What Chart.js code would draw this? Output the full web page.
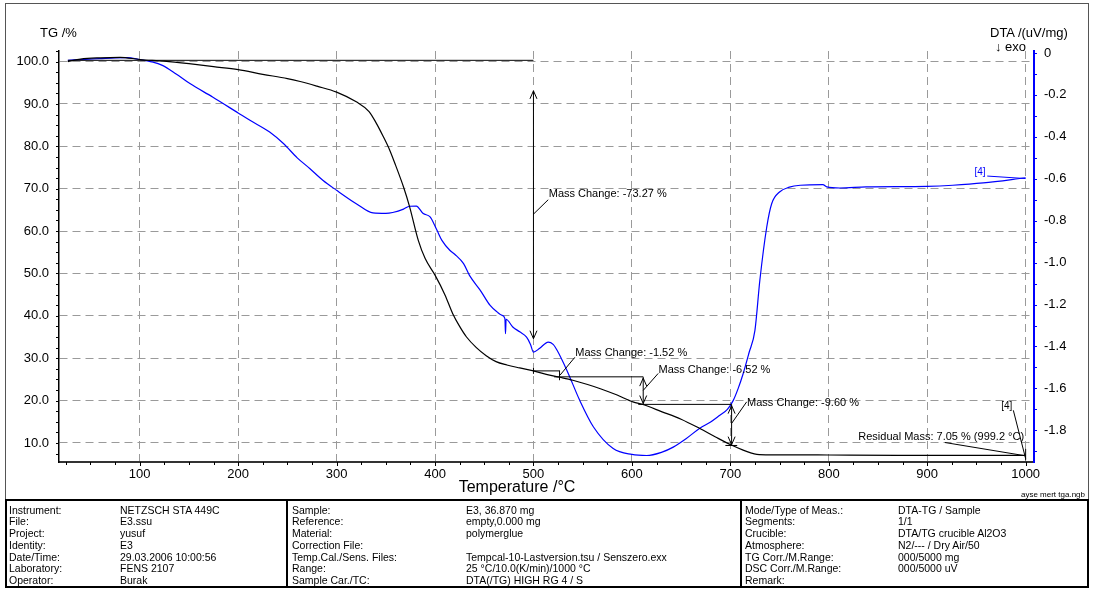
<!DOCTYPE html>
<html><head><meta charset="utf-8">
<script src="https://cdn.jsdelivr.net/npm/chart.js@4.4.0/dist/chart.umd.min.js"></script>
<style>
html,body{margin:0;padding:0;background:#fff;width:1094px;height:589px;overflow:hidden;font-family:"Liberation Sans",Arial,sans-serif;}
#c{position:absolute;left:0;top:0;}
.t{position:absolute;white-space:nowrap;color:#000;line-height:1;transform:translateY(-50%);}
#frame{position:absolute;left:5px;top:3px;width:1084px;height:497px;border:1px solid #555;border-bottom:none;box-sizing:border-box;}
#tbl{position:absolute;left:5px;top:499px;width:1084px;height:89px;border:2px solid #000;box-sizing:border-box;}
.dv{position:absolute;top:499px;height:89px;width:2px;background:#000;}
.cell{position:absolute;white-space:nowrap;font-size:10.5px;line-height:1;transform:translateY(-50%);color:#000;}
</style></head>
<body>
<div id="frame"></div>
<canvas id="c" width="1094" height="589"></canvas>
<div class="t" style="left:40px;top:32px;font-size:13px;">TG /%</div>
<div class="t" style="left:990px;top:32px;font-size:13px;">DTA /(uV/mg)</div>
<div class="t" style="left:995px;top:46px;font-size:13px;">&#8595; exo</div>
<div class="t" style="left:517px;top:487px;font-size:16px;transform:translate(-50%,-50%);">Temperature /°C</div>
<div class="t" style="right:9px;top:495px;font-size:8px;">ayse mert tga.ngb</div>
<div id="tbl"></div>
<div class="dv" style="left:286px;"></div>
<div class="dv" style="left:740px;"></div>
<div id="cells"></div>
<script>
// ---------- data ----------
const tgTemp = [27,40,60,80,100,125,150,175,200,225,250,263,280,300,320,333,340,347,354,360,368,374,383,390,400,410,418,425,432,442,452,462,473,486,500,513,527,540,555,568,585,601,612,630,650,669,685,701,713,720,727,740,770,800,870,930,999];
const tgMass = [100.0,100.6,100.9,101.0,100.5,100.1,99.5,98.8,98.1,97.0,96.0,95.3,94.2,92.8,90.5,88.2,85.6,82.5,79.1,75.5,70.4,65.9,57.8,53.5,49.6,45.0,40.5,37.5,35.0,32.5,30.6,29.2,28.4,27.7,27.0,26.2,25.5,24.8,23.8,22.8,21.3,19.7,19.0,17.4,15.6,13.4,11.4,9.5,8.3,7.7,7.3,7.2,7.2,7.15,7.05,7.05,7.05];
const dtaTemp = [27,45,59,75,87,100,112,123,137,151,174,200,212,232,246,260,273,286,300,320,337,350,357,368,374,381,388,395,402,407,415,420,429,435,446,456,463,468,471,471.6,472.2,479,486,493,497,500,506,515,520,524,534,547,561,581,600,615,630,642,655,669,680,689,697,703,708,713,719,725,730,737,742,750,760,771,794,798,811,838,900,926,957,1000];
const dtaVal = [-0.035,-0.030,-0.027,-0.023,-0.022,-0.031,-0.042,-0.059,-0.100,-0.146,-0.210,-0.286,-0.321,-0.377,-0.432,-0.500,-0.552,-0.607,-0.655,-0.719,-0.763,-0.765,-0.761,-0.745,-0.731,-0.730,-0.766,-0.782,-0.846,-0.894,-0.941,-0.960,-1.005,-1.061,-1.132,-1.204,-1.235,-1.251,-1.267,-1.339,-1.270,-1.307,-1.330,-1.355,-1.390,-1.427,-1.410,-1.379,-1.390,-1.418,-1.514,-1.657,-1.784,-1.887,-1.915,-1.920,-1.905,-1.880,-1.840,-1.790,-1.760,-1.729,-1.700,-1.657,-1.600,-1.530,-1.430,-1.323,-1.084,-0.830,-0.719,-0.663,-0.640,-0.631,-0.628,-0.639,-0.644,-0.639,-0.636,-0.631,-0.620,-0.595];
const xTicks = [100,200,300,400,500,600,700,800,900,1000];
const tgTicks = [10,20,30,40,50,60,70,80,90,100];
const dtaTicks = [0,-0.2,-0.4,-0.6,-0.8,-1.0,-1.2,-1.4,-1.6,-1.8];

// table text
const tbl = [
 {lx:9, vx:120, labels:["Instrument:","File:","Project:","Identity:","Date/Time:","Laboratory:","Operator:"],
  values:["NETZSCH STA 449C","E3.ssu","yusuf","E3","29.03.2006 10:00:56","FENS 2107","Burak"]},
 {lx:292, vx:466, labels:["Sample:","Reference:","Material:","Correction File:","Temp.Cal./Sens. Files:","Range:","Sample Car./TC:"],
  values:["E3, 36.870 mg","empty,0.000 mg","polymerglue","","Tempcal-10-Lastversion.tsu / Senszero.exx","25 °C/10.0(K/min)/1000 °C","DTA(/TG) HIGH RG 4 / S"]},
 {lx:745, vx:898, labels:["Mode/Type of Meas.:","Segments:","Crucible:","Atmosphere:","TG Corr./M.Range:","DSC Corr./M.Range:","Remark:"],
  values:["DTA-TG / Sample","1/1","DTA/TG crucible Al2O3","N2/--- / Dry Air/50","000/5000 mg","000/5000 uV",""]}
];
const cells = document.getElementById('cells');
tbl.forEach(col=>{
  col.labels.forEach((s,i)=>{
    const y = 509.5 + i*11.75;
    const a = document.createElement('div'); a.className='cell'; a.style.left=col.lx+'px'; a.style.top=y+'px'; a.textContent=s; cells.appendChild(a);
    const b = document.createElement('div'); b.className='cell'; b.style.left=col.vx+'px'; b.style.top=y+'px'; b.textContent=col.values[i]; cells.appendChild(b);
  });
});

const FONT = '"Liberation Sans", Arial, sans-serif';
const BLUE = '#0000ff';

function head(ctx,x,y,dir){ // dir -1 : points up, +1 : points down
  ctx.beginPath(); ctx.moveTo(x-3.5,y-dir*8); ctx.lineTo(x,y); ctx.lineTo(x+3.5,y-dir*8); ctx.stroke();
}
function seg(ctx,x1,y1,x2,y2){ ctx.beginPath(); ctx.moveTo(x1,y1); ctx.lineTo(x2,y2); ctx.stroke(); }

const annoPlugin = {
  id:'anno',
  afterDatasetsDraw(chart){
    const {ctx, scales:{x,y,y2}} = chart;
    const X=v=>x.getPixelForValue(v), Y=v=>y.getPixelForValue(v), Z=v=>y2.getPixelForValue(v);
    ctx.save();
    ctx.strokeStyle='#000'; ctx.lineWidth=1; ctx.fillStyle='#000';
    ctx.font='11px '+FONT; ctx.textBaseline='middle'; ctx.textAlign='left';
    // step 1
    seg(ctx,X(27),Y(100.3),X(500),Y(100.3));
    seg(ctx,X(500),Y(93.1),X(500),Y(34.6)); head(ctx,X(500),Y(93.1),-1); head(ctx,X(500),Y(34.6),1);
    seg(ctx,X(500),Y(64.0),X(515),Y(67.4));
    ctx.fillText('Mass Change: -73.27 %',X(515.5),Y(68.7));
    // step 2
    seg(ctx,X(500),Y(27.0),X(526.5),Y(27.0));
    seg(ctx,X(500),Y(27.7),X(500),Y(26.3));
    seg(ctx,X(526.5),Y(27.1),X(526.5),Y(24.8));
    seg(ctx,X(521),Y(25.6),X(611.5),Y(25.6));
    seg(ctx,X(527),Y(26.0),X(542),Y(30.2));
    ctx.fillText('Mass Change: -1.52 %',X(542.5),Y(31.2));
    // step 3
    seg(ctx,X(611.5),Y(25.6),X(611.5),Y(19.1)); head(ctx,X(611.5),Y(25.3),-1); head(ctx,X(611.5),Y(19.3),1);
    seg(ctx,X(606.5),Y(19.1),X(701.3),Y(19.1));
    seg(ctx,X(611.5),Y(22.4),X(626.7),Y(26.4));
    ctx.fillText('Mass Change: -6.52 %',X(627),Y(27.3));
    // step 4
    seg(ctx,X(701.3),Y(19.1),X(701.3),Y(9.4)); head(ctx,X(701.3),Y(18.8),-1); head(ctx,X(701.3),Y(9.6),1);
    seg(ctx,X(695),Y(9.4),X(707),Y(9.4));
    seg(ctx,X(701.3),Y(14.6),X(716.6),Y(19.7));
    ctx.fillText('Mass Change: -9.60 %',X(717),Y(19.4));
    // residual
    ctx.fillText('Residual Mass: 7.05 % (999.2 °C)',X(830),Y(11.3));
    seg(ctx,X(918),Y(10.1),X(1000),Y(6.95));
    seg(ctx,X(1000),Y(8.6),X(1000),Y(5.9));
    ctx.font='10px '+FONT; ctx.textAlign='center';
    ctx.fillText('[4]',X(980.8),Y(18.7));
    seg(ctx,X(987.5),Y(17.7),X(1000),Y(6.3));
    ctx.fillStyle=BLUE; ctx.strokeStyle=BLUE;
    ctx.fillText('[4]',X(953.6),Z(-0.568));
    seg(ctx,X(961),Z(-0.587),X(1000),Z(-0.599));
    ctx.restore();
  },
  afterDraw(chart){
    const {ctx, scales:{x,y,y2}, chartArea:ca} = chart;
    ctx.save(); ctx.lineWidth=1;
    ctx.strokeStyle='#000';
    for(let v=7.5; v<=102.5; v+=2.5){ const p=Math.round(y.getPixelForValue(v))+0.5; seg(ctx,ca.left-3,p,ca.left,p); }
    for(let v=25; v<=1000; v+=25){ const p=Math.round(x.getPixelForValue(v))+0.5; seg(ctx,p,ca.bottom,p,ca.bottom+(v%100===0?4:3)); }
    ctx.strokeStyle=BLUE;
    for(let k=0; k<=19; k++){ const p=Math.round(y2.getPixelForValue(-k/10))+0.5; seg(ctx,ca.right,p,ca.right+3,p); }
    ctx.restore();
  }
};

const GRID = '#9a9a9a';
new Chart(document.getElementById('c'), {
  type:'scatter',
  data:{datasets:[
    {label:'TG', data:tgTemp.map((t,i)=>({x:t,y:tgMass[i]})), yAxisID:'y', showLine:true, borderColor:'#000', borderWidth:1.2, pointRadius:0, cubicInterpolationMode:'monotone'},
    {label:'DTA', data:dtaTemp.map((t,i)=>({x:t,y:dtaVal[i]})), yAxisID:'y2', showLine:true, borderColor:BLUE, borderWidth:1.2, pointRadius:0, cubicInterpolationMode:'monotone'}
  ]},
  options:{
    responsive:false, animation:false, devicePixelRatio:1,
    layout:{padding:{top:51,left:0,right:0,bottom:0}},
    plugins:{legend:{display:false}, tooltip:{enabled:false}},
    scales:{
      x:{type:'linear', position:'bottom', min:18, max:1008.5,
        afterBuildTicks:s=>{s.ticks=xTicks.map(v=>({value:v}));},
        afterFit:s=>{s.height=127;},
        ticks:{color:'#000', font:{family:FONT,size:13}, padding:5, maxRotation:0, callback:v=>String(v)},
        grid:{color:GRID, lineWidth:1, drawTicks:false},
        border:{display:true, color:'#333', width:2, dash:[8,5]}
      },
      y:{type:'linear', position:'left', min:5.5, max:102.5,
        afterBuildTicks:s=>{s.ticks=tgTicks.map(v=>({value:v}));},
        afterFit:s=>{s.width=59;},
        ticks:{color:'#000', font:{family:FONT,size:13}, padding:10, callback:v=>Number(v).toFixed(1)},
        grid:{color:GRID, lineWidth:1, drawTicks:false},
        border:{display:true, color:'#000', width:1.5, dash:[8,5]}
      },
      y2:{type:'linear', position:'right', min:-1.951, max:0.0095,
        afterBuildTicks:s=>{s.ticks=dtaTicks.map(v=>({value:v}));},
        afterFit:s=>{s.width=60;},
        ticks:{color:'#000', font:{family:FONT,size:13}, padding:10, callback:v=>v===0?'0':Number(v).toFixed(1)},
        grid:{drawOnChartArea:false, drawTicks:false},
        border:{display:true, color:BLUE, width:2}
      }
    }
  },
  plugins:[annoPlugin]
});
</script>
</body></html>
